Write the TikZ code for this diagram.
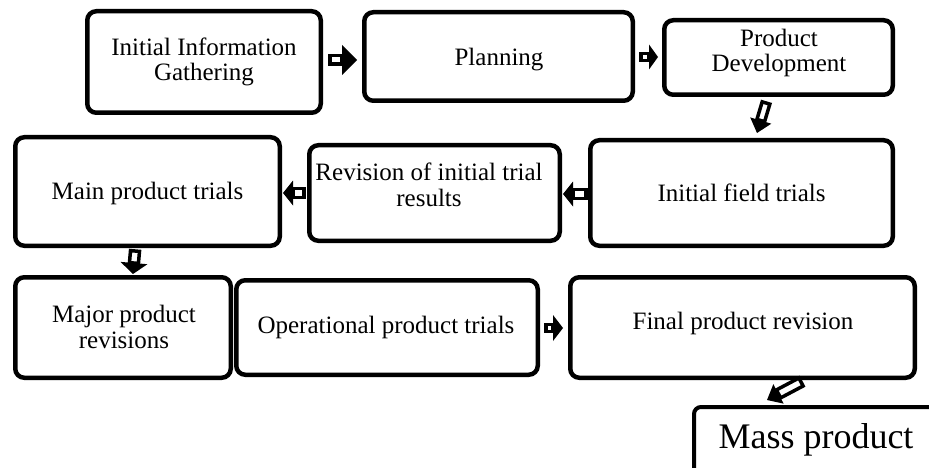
\documentclass[tikz,border=0pt]{standalone}
\usepackage{fontspec}
\setmainfont{Liberation Serif}
\usetikzlibrary{calc}
\newcommand{\blockarrow}[5]{% from, to, shaft half width, head half width, head length
  \coordinate (hb) at ($(#2)!#5pt!(#1)$);
  \coordinate (s1) at ($(#1)!#3pt!90:(#2)$);
  \coordinate (s2) at ($(#1)!#3pt!-90:(#2)$);
  \coordinate (s3) at ($(hb)!#3pt!-90:(#2)$);
  \coordinate (s4) at ($(hb)!#3pt!90:(#2)$);
  \coordinate (h1) at ($(hb)!#4pt!90:(#2)$);
  \coordinate (h2) at ($(hb)!#4pt!-90:(#2)$);
  \draw[shaftbox] (s1) -- (s2) -- (s3) -- (s4) -- cycle;
  \fill[black] (h1) -- (#2) -- (h2) -- cycle;
}
\begin{document}
\begin{tikzpicture}[x=1pt,y=-1pt,
  box/.style={draw, line width=4.5pt, rounded corners=9pt, inner sep=0pt},
  lbl/.style={align=center, font=\fontsize{25}{25.5}\selectfont, inner sep=0pt},
  shaftbox/.style={draw=black, fill=white, line width=3.5pt, line join=miter}]
\useasboundingbox (0,0) rectangle (929,468);
% boxes
\node[box, minimum width=233.5pt, minimum height=101.5pt] (n1) at (204,62) {};
\node[box, minimum width=268.5pt, minimum height=88.5pt] (n2) at (498.5,56.5) {};
\node[box, minimum width=228.5pt, minimum height=74.5pt] (n3) at (778.5,57.5) {};
\node[box, minimum width=264.5pt, minimum height=108.5pt] (n4) at (147.5,191.5) {};
\node[box, minimum width=250.5pt, minimum height=95.5pt] (n5) at (434.5,193) {};
\node[box, minimum width=302.5pt, minimum height=105.5pt] (n6) at (741.5,193) {};
\node[box, minimum width=215.5pt, minimum height=100.5pt] (n7) at (123,327.5) {};
\node[box, minimum width=301.5pt, minimum height=94.5pt] (n8) at (387,327.5) {};
\node[box, minimum width=344.5pt, minimum height=100.5pt] (n9) at (742.5,327.5) {};
\begin{scope}
\clip (0,0) rectangle (929,468);
\node[box, line width=4pt, rounded corners=7pt, minimum width=264pt, minimum height=86pt] (n10) at (826,450) {};
\end{scope}
% labels
\node[lbl] (t1) at (204,62) {Initial Information\\Gathering};
\node[lbl] (t2) at (499,60) {Planning};
\node[lbl] (t3) at (779,53) {Product\\Development};
\node[lbl] (t4) at (147.5,193) {Main product trials};
\node[lbl] (t5) at (429,185) {Revision of initial trial\\results};
\node[lbl] (t6) at (741.5,193) {Initial field trials};
\node[lbl] (t7) at (124,327) {Major product\\revisions};
\node[lbl] (t8) at (386,327) {Operational product trials};
\node[lbl] (t9) at (743,323) {Final product revision};
\node[lbl, font=\fontsize{36}{38}\selectfont] (t10) at (816,440) {Mass product};
% connector end points
\coordinate (a1s) at (330,60);   \coordinate (a1e) at (357,60);
\coordinate (a2s) at (641,57);   \coordinate (a2e) at (658,57);
\coordinate (a3s) at (766,103);  \coordinate (a3e) at (757,133);
\coordinate (a4s) at (586,194);  \coordinate (a4e) at (563,194);
\coordinate (a5s) at (304,193);  \coordinate (a5e) at (283,193);
\coordinate (a6s) at (135,251);  \coordinate (a6e) at (133,274);
\coordinate (a7s) at (546,328);  \coordinate (a7e) at (563,328);
\coordinate (a8s) at (801,382);  \coordinate (a8e) at (767,400);
% block arrows
\blockarrow{a1s}{a1e}{4.25}{15}{15}
\blockarrow{a2s}{a2e}{3.5}{12.5}{9}
\blockarrow{a3s}{a3e}{4}{11}{13}
\blockarrow{a4s}{a4e}{4.5}{12.5}{10}
\blockarrow{a5s}{a5e}{4.5}{12.5}{10}
\blockarrow{a6s}{a6e}{4.5}{13.5}{11}
\blockarrow{a7s}{a7e}{3.5}{13}{10}
\blockarrow{a8s}{a8e}{4.5}{11}{13}
\end{tikzpicture}
\end{document}
